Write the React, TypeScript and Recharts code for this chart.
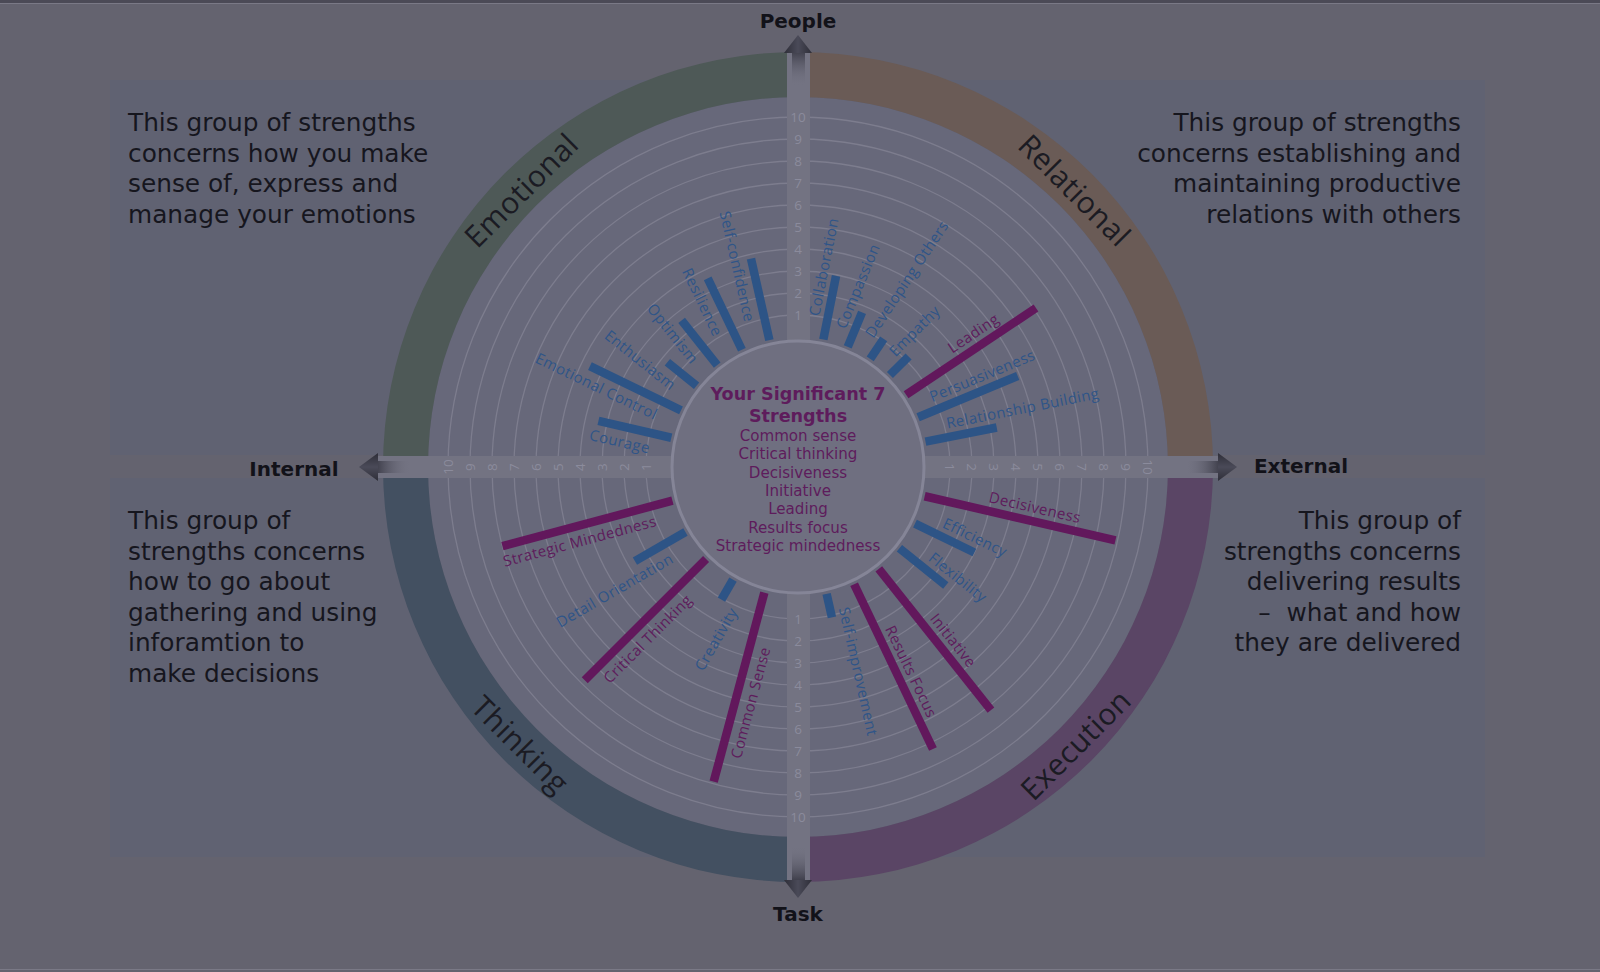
import React from 'react'
import { RadialBarChart, RadialBar, PolarAngleAxis, PolarRadiusAxis, PolarGrid } from 'recharts'

const W = 1600
const H = 972
const CX = 798
const CY = 467
const R0 = 130
const R10 = 350
const RAD = Math.PI / 180

// strengths per group, clockwise starting from "People"
const relationalNames = ['Collaboration', 'Compassion', 'Developing Others', 'Empathy', 'Leading', 'Persuasiveness', 'Relationship Building']
const relationalScores = [2.95, 1.7, 1.1, 1.2, 7.1, 4.9, 3.3]

const executionNames = ['Decisiveness', 'Efficiency', 'Flexibility', 'Initiative', 'Results Focus', 'Self-improvement']
const executionScores = [8.9, 3.0, 2.7, 8.2, 8.3, 1.1]

const thinkingNames = ['Common Sense', 'Creativity', 'Critical Thinking', 'Detail Orientation', 'Strategic Mindedness']
const thinkingScores = [8.9, 1.05, 7.8, 2.65, 8.0]

const emotionalNames = ['Courage', 'Emotional Control', 'Enthusiasm', 'Optimism', 'Resilience', 'Self-confidence']
const emotionalScores = [3.4, 4.6, 1.7, 2.6, 3.6, 3.8]

const significant = ['Common sense', 'Critical thinking', 'Decisiveness', 'Initiative', 'Leading', 'Results focus', 'Strategic mindedness']
const scaleTicks = [1, 2, 3, 4, 5, 6, 7, 8, 9, 10]

const quadrants = [
  { label: 'Relational', names: relationalNames, scores: relationalScores, from: 0, band: '#6a5b56', tickAngle: 90, tickRotate: 0, labelRotate: 45 },
  { label: 'Execution', names: executionNames, scores: executionScores, from: 90, band: '#5a4565', tickAngle: 0, tickRotate: 90, labelRotate: -45 },
  { label: 'Thinking', names: thinkingNames, scores: thinkingScores, from: 180, band: '#435061', tickAngle: 270, tickRotate: 0, labelRotate: 45 },
  { label: 'Emotional', names: emotionalNames, scores: emotionalScores, from: 270, band: '#4e5957', tickAngle: 180, tickRotate: -90, labelRotate: -45 },
]

const blurbs = [
  { x: 128, y: 122.5, anchor: 'start', lines: ['This group of strengths', 'concerns how you make', 'sense of, express and', 'manage your emotions'] },
  { x: 1461, y: 122.5, anchor: 'end', lines: ['This group of strengths', 'concerns establishing and', 'maintaining productive', 'relations with others'] },
  { x: 128, y: 520.4, anchor: 'start', lines: ['This group of', 'strengths concerns', 'how to go about', 'gathering and using', 'inforamtion to', 'make decisions'] },
  { x: 1461, y: 520.4, anchor: 'end', lines: ['This group of', 'strengths concerns', 'delivering results', '–  what and how', 'they are delivered'] },
]

const BLUE = '#2d5486'
const PURPLE = '#62185c'
const BLUE_TEXT = '#2f5588'
const PURPLE_TEXT = '#5e1c5c'

// point at radius r, angle measured clockwise from 12 o'clock
const pt = (r: number, a: number) => [CX + r * Math.sin(a * RAD), CY - r * Math.cos(a * RAD)]

function bandPath(r1: number, r2: number, a0: number, a1: number) {
  const [x0, y0] = pt(r2, a0)
  const [x1, y1] = pt(r2, a1)
  const [x2, y2] = pt(r1, a1)
  const [x3, y3] = pt(r1, a0)
  return `M${x0} ${y0} A${r2} ${r2} 0 0 1 ${x1} ${y1} L${x2} ${y2} A${r1} ${r1} 0 0 0 ${x3} ${y3} Z`
}

function StrengthBar(props: any) {
  const { cx, cy, innerRadius, outerRadius, startAngle, endAngle } = props
  const name: string = props.payload?.name ?? props.name
  const isSig = significant.some((s) => s.toLowerCase() === name.toLowerCase())
  const mid = (startAngle + endAngle) / 2
  const ux = Math.cos(mid * RAD)
  const uy = -Math.sin(mid * RAD)
  const px = -Math.sin(mid * RAD)
  const py = -Math.cos(mid * RAD)
  const estLen = name.length * 7.6
  const rl = Math.max((innerRadius + outerRadius) / 2 + 12, innerRadius + 22 + estLen / 2)
  const tx = cx + rl * ux + 14.5 * px
  const ty = cy + rl * uy + 14.5 * py
  const rot = -mid + (ux > 0 ? 0 : 180)
  return (
    <g>
      <line
        x1={cx + innerRadius * ux}
        y1={cy + innerRadius * uy}
        x2={cx + outerRadius * ux}
        y2={cy + outerRadius * uy}
        stroke={isSig ? PURPLE : BLUE}
        strokeWidth={8.5}
      />
      <text
        x={tx}
        y={ty}
        transform={`rotate(${rot} ${tx} ${ty})`}
        textAnchor="middle"
        dominantBaseline="central"
        fontFamily="'Open Sans', sans-serif"
        fontSize={15}
        fontWeight={500}
        letterSpacing={0.4}
        fill={isSig ? PURPLE_TEXT : BLUE_TEXT}
      >
        {name}
      </text>
    </g>
  )
}

const tickRenderer = (rotate: number) => (p: any) => (
  <text
    x={p.x}
    y={p.y}
    textAnchor="middle"
    dominantBaseline="central"
    transform={`rotate(${rotate} ${p.x} ${p.y})`}
    fontFamily="'Open Sans', sans-serif"
    fontSize={13.5}
    fill="#8b8b9c"
  >
    {p.payload.value}
  </text>
)

// angle range of a group in recharts degrees (counter-clockwise from 3 o'clock).
// recharts draws each centric bar one band below its category tick, so the range
// is moved up by one slot to land the bars on (k + 1) * slot inside the quadrant
function angles(n: number, from: number) {
  const slot = 90 / (n + 1)
  let start = 90 - from - 90 + 1.5 * slot
  let end = start + n * slot
  if (start < 0) {
    start += 360
    end += 360
  }
  return { start, end }
}

// recharts lays categories counter-clockwise, the groups read clockwise
const groupData = (q: typeof quadrants[number]) =>
  q.names.map((name, i) => ({ name, score: q.scores[i] })).reverse()

const layer: React.CSSProperties = { position: 'absolute', left: 0, top: 0 }

function GridChart() {
  const q = quadrants[0]
  const { start, end } = angles(q.names.length, q.from)
  return (
    <div style={layer}>
      <RadialBarChart width={W} height={H} cx={CX} cy={CY} innerRadius={R0} outerRadius={R10}
        startAngle={start} endAngle={end} data={groupData(q)} layout="centric" margin={{ top: 0, right: 0, bottom: 0, left: 0 }}>
        <PolarGrid gridType="circle" radialLines={false} stroke="#7d7d8e" strokeWidth={1.3} />
        <PolarAngleAxis type="category" dataKey="name" tick={false} axisLine={false} tickLine={false} />
        <PolarRadiusAxis type="number" domain={[0, 10]} ticks={scaleTicks} tick={false} axisLine={false} tickLine={false} />
        <RadialBar dataKey="score" isAnimationActive={false} shape={() => <g />} />
      </RadialBarChart>
    </div>
  )
}

function QuadrantChart({ q }: { q: typeof quadrants[number] }) {
  const { start, end } = angles(q.names.length, q.from)
  return (
    <div style={layer}>
      <RadialBarChart width={W} height={H} cx={CX} cy={CY} innerRadius={R0} outerRadius={R10}
        startAngle={start} endAngle={end} data={groupData(q)} layout="centric" margin={{ top: 0, right: 0, bottom: 0, left: 0 }}>
        <PolarAngleAxis type="category" dataKey="name" tick={false} axisLine={false} tickLine={false} />
        <PolarRadiusAxis type="number" domain={[0, 10]} ticks={scaleTicks} angle={q.tickAngle}
          axisLine={false} tickLine={false} tick={tickRenderer(q.tickRotate)} />
        <RadialBar dataKey="score" isAnimationActive={false} shape={(p: any) => <StrengthBar {...p} />} />
      </RadialBarChart>
    </div>
  )
}

export default function App() {
  const sans = "'DejaVu Sans', Verdana, sans-serif"
  return (
    <div style={{ position: 'relative', width: W, height: H, overflow: 'hidden', background: '#64636f' }}>
      <style>{'body{margin:0}'}</style>

      {/* panels, inner disc background and coloured group bands */}
      <svg width={W} height={H} style={layer}>
        <rect x={0} y={0} width={W} height={3} fill="#4b4a56" />
        <line x1={0} x2={W} y1={3.5} y2={3.5} stroke="#7a7986" />
        <line x1={0} x2={W} y1={969.5} y2={969.5} stroke="#7a7986" />
        <rect x={110} y={80} width={688} height={375} fill="#606272" />
        <rect x={798} y={80} width={687} height={375} fill="#606272" />
        <rect x={110} y={478} width={688} height={379} fill="#606272" />
        <rect x={798} y={478} width={687} height={379} fill="#606272" />
        <circle cx={CX} cy={CY} r={370} fill="#67687a" />
        {quadrants.map((q) => (
          <path key={q.label} d={bandPath(370, 415, q.from, q.from + 90)} fill={q.band} />
        ))}
      </svg>

      <GridChart />

      {/* axis strips and arrows */}
      <svg width={W} height={H} style={layer}>
        <defs>
          <linearGradient id="shaftUp" x1="0" y1="0" x2="0" y2="1">
            <stop offset="0" stopColor="#3a3a46" />
            <stop offset="1" stopColor="#747483" stopOpacity="0" />
          </linearGradient>
          <linearGradient id="shaftDown" x1="0" y1="1" x2="0" y2="0">
            <stop offset="0" stopColor="#3a3a46" />
            <stop offset="1" stopColor="#747483" stopOpacity="0" />
          </linearGradient>
          <linearGradient id="shaftLeft" x1="0" y1="0" x2="1" y2="0">
            <stop offset="0" stopColor="#3a3a46" />
            <stop offset="1" stopColor="#747483" stopOpacity="0" />
          </linearGradient>
          <linearGradient id="shaftRight" x1="1" y1="0" x2="0" y2="0">
            <stop offset="0" stopColor="#3a3a46" />
            <stop offset="1" stopColor="#747483" stopOpacity="0" />
          </linearGradient>
          <linearGradient id="headV" x1="0" y1="0" x2="1" y2="0">
            <stop offset="0" stopColor="#2e2e38" />
            <stop offset="0.5" stopColor="#4a4a58" />
            <stop offset="1" stopColor="#2e2e38" />
          </linearGradient>
          <linearGradient id="headH" x1="0" y1="0" x2="0" y2="1">
            <stop offset="0" stopColor="#2e2e38" />
            <stop offset="0.5" stopColor="#4a4a58" />
            <stop offset="1" stopColor="#2e2e38" />
          </linearGradient>
        </defs>
        <rect x={787} y={52} width={23} height={828} fill="#737382" />
        <rect x={377} y={456} width={842} height={22} fill="#737382" />
        <rect x={792} y={50} width={13} height={36} fill="url(#shaftUp)" />
        <rect x={792} y={846} width={13} height={36} fill="url(#shaftDown)" />
        <rect x={375} y={461} width={36} height={12} fill="url(#shaftLeft)" />
        <rect x={1185} y={461} width={36} height={12} fill="url(#shaftRight)" />
        <polygon points="798,35 784,53 812,53" fill="url(#headV)" />
        <polygon points="798,898 784,880 812,880" fill="url(#headV)" />
        <polygon points="359,467 378,453 378,481" fill="url(#headH)" />
        <polygon points="1237,467 1218,453 1218,481" fill="url(#headH)" />
      </svg>

      {quadrants.map((q) => (
        <QuadrantChart key={q.label} q={q} />
      ))}

      {/* centre disc, titles and descriptive text */}
      <svg width={W} height={H} style={layer}>
        <circle cx={CX} cy={CY} r={126} fill="#6f6f80" stroke="#858597" strokeWidth={3} />
        <text x={CX} y={394} textAnchor="middle" dominantBaseline="central" fontFamily={sans} fontWeight="bold" fontSize={17.6} fill={PURPLE_TEXT}>Your Significant 7</text>
        <text x={CX} y={415.5} textAnchor="middle" dominantBaseline="central" fontFamily={sans} fontWeight="bold" fontSize={17.6} fill={PURPLE_TEXT}>Strengths</text>
        {significant.map((s, i) => (
          <text key={s} x={CX} y={435.7 + i * 18.4} textAnchor="middle" dominantBaseline="central" fontFamily={sans} fontSize={15.1} fill={PURPLE_TEXT}>{s}</text>
        ))}

        {quadrants.map((q) => {
          const [x, y] = pt(392, q.from + 45)
          return (
            <text key={q.label} x={x} y={y} transform={`rotate(${q.labelRotate} ${x} ${y})`} textAnchor="middle" dominantBaseline="central"
              fontFamily="'Open Sans', sans-serif" fontSize={30} letterSpacing={0.5} fill="#1b1b23">{q.label}</text>
          )
        })}

        <text x={CX} y={21} textAnchor="middle" dominantBaseline="central" fontFamily={sans} fontWeight="bold" fontSize={20} fill="#121219">People</text>
        <text x={CX} y={914} textAnchor="middle" dominantBaseline="central" fontFamily={sans} fontWeight="bold" fontSize={20} fill="#121219">Task</text>
        <text x={294} y={469} textAnchor="middle" dominantBaseline="central" fontFamily={sans} fontWeight="bold" fontSize={20} fill="#121219">Internal</text>
        <text x={1301} y={466} textAnchor="middle" dominantBaseline="central" fontFamily={sans} fontWeight="bold" fontSize={20} fill="#121219">External</text>

        {blurbs.map((b, bi) =>
          b.lines.map((line, i) => (
            <text key={`${bi}-${i}`} x={b.x} y={b.y + i * 30.6} textAnchor={b.anchor as any} dominantBaseline="central"
              fontFamily={sans} fontSize={24.8} fill="#16161e" style={{ whiteSpace: 'pre' }}>{line}</text>
          ))
        )}
      </svg>
    </div>
  )
}
